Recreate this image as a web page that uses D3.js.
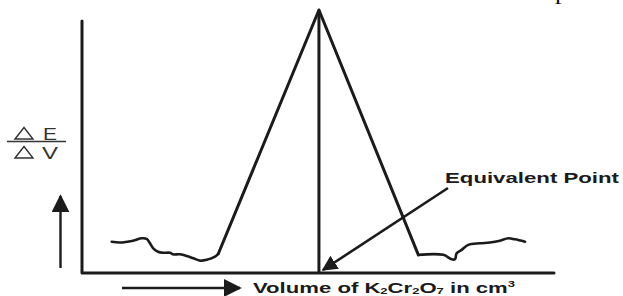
<!DOCTYPE html>
<html>
<head>
<meta charset="utf-8">
<script src="https://cdn.jsdelivr.net/npm/d3@7"></script>
<style>
  body { margin: 0; background: #fff; }
  svg { display: block; }
  .curve { fill: none; stroke: #1b1b1b; stroke-linejoin: round; stroke-linecap: round; }
</style>
</head>
<body>
<svg id="chart" width="623" height="296"></svg>
<script>
// volume of titrant (arbitrary units) and dE/dV (arbitrary units)
let leftV  = [3.15, 4.03, 5.40, 6.32, 6.85, 7.20, 7.52, 8.05, 8.58, 9.32, 9.64, 10.38, 11.09, 11.79, 12.50, 13.21, 14.09, 14.44],
    leftD  = [11.9, 11.6, 12.3, 13.2, 13.0, 11.3, 9.5, 8.1, 7.7, 7.7, 7.1, 7.1, 6.5, 5.6, 4.7, 5.0, 6.2, 7.3];
let peakV  = [14.44, 25.1, 35.63],
    peakD  = [7.3, 100, 6.9];
let rightV = [35.63, 38.27, 39.16, 39.51, 39.69, 40.22, 40.92, 42.16, 43.22, 44.28, 45.16, 45.87, 46.93],
    rightD = [6.9, 6.9, 5.2, 5.2, 7.5, 8.8, 10.7, 11.3, 11.6, 12.3, 13.2, 12.8, 11.9];
let equivV = 25.1;

let svg = d3.select('#chart');

let x = d3.scaleLinear().domain([0, 50]).range([82, 554]),
    y = d3.scaleLinear().domain([0, 100]).range([273, 10]);

let zip = (a, b) => a.map((v, i) => ({ v: v, d: b[i] }));

let smooth = d3.line()
    .x(d => x(d.v)).y(d => y(d.d))
    .curve(d3.curveCatmullRom.alpha(0.5));
let straight = d3.line()
    .x(d => x(d.v)).y(d => y(d.d));

// arrow heads
let defs = svg.append('defs');
function head(id, w) {
    defs.append('marker')
        .attr('id', id)
        .attr('viewBox', '0 0 10 10')
        .attr('refX', 9).attr('refY', 5)
        .attr('markerWidth', w).attr('markerHeight', w)
        .attr('markerUnits', 'strokeWidth')
        .attr('orient', 'auto')
      .append('path')
        .attr('d', 'M0,0 L10,5 L0,10 Z')
        .attr('fill', '#1b1b1b');
}
head('head', 6);
head('bighead', 7.5);

// axes (plain lines, no ticks)
svg.append('path')
    .attr('class', 'curve')
    .attr('stroke-width', 3)
    .attr('stroke-linecap', 'butt')
    .attr('d', d3.line()([[x(0), y(95.8)], [x(0), y(0)], [x(50), y(0)]]));

// data curve
svg.append('path').attr('class', 'curve').attr('stroke-width', 2.6)
    .attr('d', smooth(zip(leftV, leftD)));
svg.append('path').attr('class', 'curve').attr('stroke-width', 3)
    .attr('d', straight(zip(peakV, peakD)));
svg.append('path').attr('class', 'curve').attr('stroke-width', 2.6)
    .attr('d', smooth(zip(rightV, rightD)));

// vertical line at the equivalence point
svg.append('line')
    .attr('x1', x(equivV)).attr('x2', x(equivV))
    .attr('y1', y(0)).attr('y2', y(100))
    .attr('stroke', '#1b1b1b').attr('stroke-width', 3);

// annotation
svg.append('text')
    .attr('x', 445).attr('y', 183)
    .attr('font-family', 'Liberation Sans, Arial, sans-serif')
    .attr('font-weight', 'bold')
    .attr('font-size', 15)
    .attr('textLength', 174)
    .attr('lengthAdjust', 'spacingAndGlyphs')
    .attr('fill', '#1b1b1b')
    .text('Equivalent Point');

svg.append('line')
    .attr('x1', 448).attr('y1', 188)
    .attr('x2', x(equivV) + 4).attr('y2', y(0) - 3)
    .attr('stroke', '#1b1b1b').attr('stroke-width', 2.6)
    .attr('marker-end', 'url(#head)');

// x axis label with arrow
svg.append('line')
    .attr('x1', 122).attr('y1', 288)
    .attr('x2', 240).attr('y2', 288)
    .attr('stroke', '#1b1b1b').attr('stroke-width', 2.4)
    .attr('marker-end', 'url(#bighead)');

let xl = svg.append('text')
    .attr('x', 253).attr('y', 293)
    .attr('font-family', 'Liberation Sans, Arial, sans-serif')
    .attr('font-weight', 'bold')
    .attr('font-size', 14.5)
    .attr('textLength', 262)
    .attr('lengthAdjust', 'spacingAndGlyphs')
    .attr('fill', '#1b1b1b');
xl.append('tspan').text('Volume of K');
xl.append('tspan').attr('font-size', 8.5).attr('dy', 1).text('2');
xl.append('tspan').attr('dy', -1).text('Cr');
xl.append('tspan').attr('font-size', 8.5).attr('dy', 1).text('2');
xl.append('tspan').attr('dy', -1).text('O');
xl.append('tspan').attr('font-size', 8.5).attr('dy', 1).text('7');
xl.append('tspan').attr('dy', -1).text(' in cm');
xl.append('tspan').attr('font-size', 8.5).attr('dy', -6).text('3');

// y axis label: ΔE / ΔV with up arrow
let lab = svg.append('g').attr('fill', 'none').attr('stroke', '#333').attr('stroke-width', 1.4);
lab.append('path').attr('d', 'M15,139 L24,127.5 L33,139 Z');
lab.append('path').attr('d', 'M15,158 L24,146.5 L33,158 Z');
lab.append('line').attr('x1', 7).attr('x2', 66).attr('y1', 141.5).attr('y2', 141.5).attr('stroke-width', 1.3);
svg.append('text')
    .attr('x', 43).attr('y', 139.5)
    .attr('font-family', 'Liberation Sans, Arial, sans-serif')
    .attr('font-size', 17).attr('fill', '#333')
    .attr('textLength', 14).attr('lengthAdjust', 'spacingAndGlyphs')
    .text('E');
svg.append('text')
    .attr('x', 42).attr('y', 158.5)
    .attr('font-family', 'Liberation Sans, Arial, sans-serif')
    .attr('font-size', 17).attr('fill', '#333')
    .attr('textLength', 16).attr('lengthAdjust', 'spacingAndGlyphs')
    .text('V');

svg.append('line')
    .attr('x1', 60.5).attr('y1', 268)
    .attr('x2', 60.5).attr('y2', 196)
    .attr('stroke', '#1b1b1b').attr('stroke-width', 2.4)
    .attr('marker-end', 'url(#bighead)');

// stray glyph from text above the figure
svg.append('text')
    .attr('x', 555).attr('y', -1)
    .attr('font-family', 'Liberation Serif, Times New Roman, serif')
    .attr('font-size', 26).attr('fill', '#111')
    .text('p');
</script>
</body>
</html>
